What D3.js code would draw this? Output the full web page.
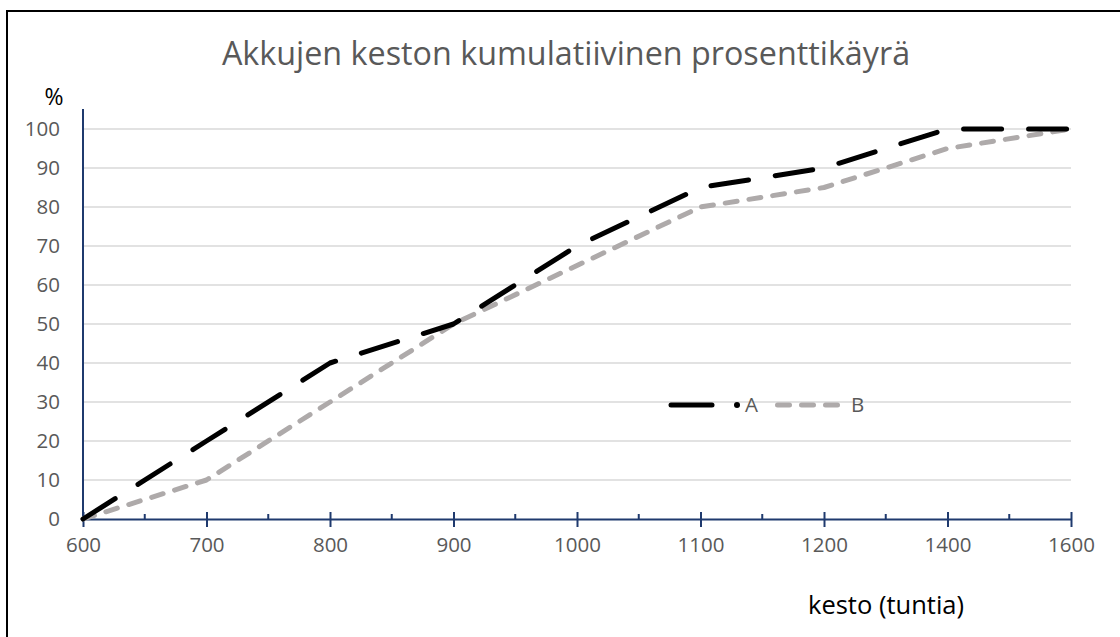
<!DOCTYPE html>
<html>
<head>
<meta charset="utf-8">
<script src="https://cdn.jsdelivr.net/npm/d3@7"></script>
<style>
  body { margin: 0; background: #fff; }
  svg { display: block; font-family: 'Open Sans', sans-serif; }
</style>
</head>
<body>
<div class="canvas"></div>
<script>
// data
const categories = ['600', '700', '800', '900', '1000', '1100', '1200', '1400', '1600'];
const seriesA = [0, 20, 40, 50, 70, 85, 90, 100, 100];
const seriesB = [0, 10, 30, 50, 65, 80, 85, 95, 100];
const yTicks = [0, 10, 20, 30, 40, 50, 60, 70, 80, 90, 100];

const dims = { width: 1120, height: 637 };
const plot = { left: 83, right: 1071, top: 129, bottom: 519 };

const svg = d3.select('.canvas')
  .append('svg')
  .attr('width', dims.width)
  .attr('height', dims.height);

// outer frame
svg.append('rect')
  .attr('x', 7)
  .attr('y', 11)
  .attr('width', 1200)
  .attr('height', 700)
  .attr('fill', 'none')
  .attr('stroke', '#000')
  .attr('stroke-width', 2);

const x = d3.scalePoint()
  .domain(categories)
  .range([plot.left, plot.right]);

const y = d3.scaleLinear()
  .domain([0, 100])
  .range([plot.bottom, plot.top]);

// gridlines
svg.append('g')
  .selectAll('line')
  .data(yTicks.filter(d => d > 0))
  .enter()
  .append('line')
    .attr('x1', plot.left)
    .attr('x2', plot.right)
    .attr('y1', d => y(d))
    .attr('y2', d => y(d))
    .attr('stroke', '#d9d9d9')
    .attr('stroke-width', 1.5);

// y labels
svg.append('g')
  .selectAll('text')
  .data(yTicks)
  .enter()
  .append('text')
    .attr('x', 60)
    .attr('y', d => y(d))
    .attr('dy', '0.36em')
    .attr('text-anchor', 'end')
    .attr('fill', '#595959')
    .attr('font-size', 20.5)
    .text(d => d);

// y axis line
svg.append('line')
  .attr('x1', plot.left).attr('x2', plot.left)
  .attr('y1', 109).attr('y2', plot.bottom)
  .attr('stroke', '#1f3a6e')
  .attr('stroke-width', 2);

// x axis with major ticks crossing the line
const xAxisGroup = svg.append('g')
  .attr('transform', `translate(0, ${plot.bottom})`);

const xAxis = d3.axisBottom(x)
  .tickSizeInner(8)
  .tickSizeOuter(0)
  .tickPadding(10);

xAxisGroup.call(xAxis);
xAxisGroup.select('.domain')
  .attr('stroke', '#1f3a6e')
  .attr('stroke-width', 2);
xAxisGroup.selectAll('.tick line')
  .attr('stroke', '#1f3a6e')
  .attr('stroke-width', 2)
  .attr('y1', -7);
xAxisGroup.selectAll('.tick text')
  .attr('fill', '#595959')
  .attr('font-size', 20.5)
  .attr('font-family', "'Open Sans', sans-serif");

// minor ticks between categories
const mids = categories.slice(1).map((c, i) => (x(c) + x(categories[i])) / 2);
xAxisGroup.append('g')
  .selectAll('line')
  .data(mids)
  .enter()
  .append('line')
    .attr('x1', d => d).attr('x2', d => d)
    .attr('y1', -5).attr('y2', 0)
    .attr('stroke', '#1f3a6e')
    .attr('stroke-width', 2);

// lines
const line = d3.line()
  .x((d, i) => x(categories[i]))
  .y(d => y(d));

svg.append('path')
  .datum(seriesB)
  .attr('d', line)
  .attr('fill', 'none')
  .attr('stroke', '#aeaaaa')
  .attr('stroke-width', 5)
  .attr('stroke-linecap', 'round')
  .attr('stroke-linejoin', 'round')
  .attr('stroke-dasharray', '12 12');

svg.append('path')
  .datum(seriesA)
  .attr('d', line)
  .attr('fill', 'none')
  .attr('stroke', '#000')
  .attr('stroke-width', 5)
  .attr('stroke-linecap', 'round')
  .attr('stroke-linejoin', 'round')
  .attr('stroke-dasharray', '38 27');

// legend
const legend = svg.append('g')
  .attr('transform', 'translate(0, 405)');

legend.append('line')
  .attr('x1', 671).attr('x2', 712)
  .attr('stroke', '#000')
  .attr('stroke-width', 5)
  .attr('stroke-linecap', 'round');
legend.append('circle')
  .attr('cx', 737).attr('r', 3)
  .attr('fill', '#000');
legend.append('text')
  .attr('x', 745).attr('dy', '0.36em')
  .attr('fill', '#595959')
  .attr('font-size', 20.5)
  .text('A');

legend.append('line')
  .attr('x1', 777.5).attr('x2', 838)
  .attr('stroke', '#aeaaaa')
  .attr('stroke-width', 5)
  .attr('stroke-linecap', 'round')
  .attr('stroke-dasharray', '12 12');
legend.append('text')
  .attr('x', 851).attr('dy', '0.36em')
  .attr('fill', '#595959')
  .attr('font-size', 20.5)
  .text('B');

// titles
svg.append('text')
  .attr('x', 566)
  .attr('y', 65)
  .attr('text-anchor', 'middle')
  .attr('fill', '#595959')
  .attr('font-size', 32.3)
  .text('Akkujen keston kumulatiivinen prosenttikäyrä');

svg.append('text')
  .attr('x', 54)
  .attr('y', 105)
  .attr('text-anchor', 'middle')
  .attr('fill', '#000')
  .attr('font-size', 23)
  .text('%');

svg.append('text')
  .attr('x', 886)
  .attr('y', 614)
  .attr('text-anchor', 'middle')
  .attr('fill', '#000')
  .attr('font-size', 25.5)
  .text('kesto (tuntia)');
</script>
</body>
</html>
